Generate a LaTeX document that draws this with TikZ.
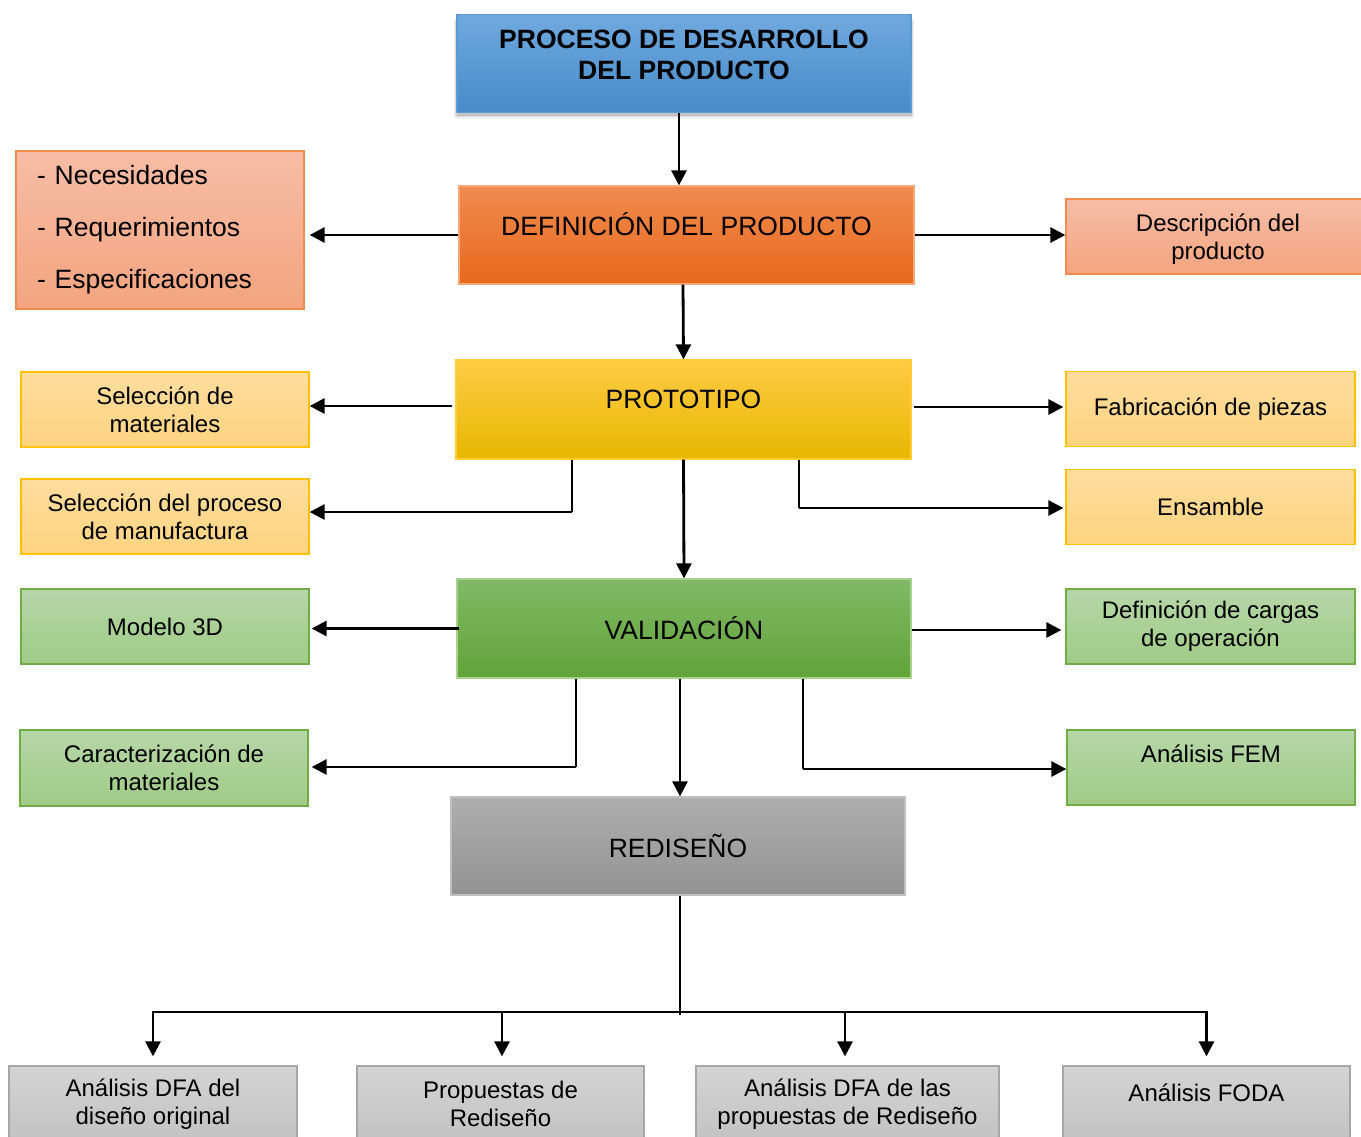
\documentclass[tikz,border=0pt]{standalone}
\usepackage{fontspec}
\setmainfont{Liberation Sans}
\usetikzlibrary{arrows.meta,shadows}
\definecolor{bluetop}{HTML}{70A9DE}
\definecolor{bluebot}{HTML}{468BC9}
\definecolor{bluedraw}{HTML}{5B9BD5}
\definecolor{ortop}{HTML}{F08B50}
\definecolor{orbot}{HTML}{E8691C}
\definecolor{ordraw}{HTML}{F5A878}
\definecolor{saltop}{HTML}{F6BDA6}
\definecolor{salbot}{HTML}{F4A47F}
\definecolor{saldraw}{HTML}{F18B4E}
\definecolor{yetop}{HTML}{FFCB45}
\definecolor{yemid}{HTML}{FFC000}
\definecolor{yebot}{HTML}{E5B800}
\definecolor{yedraw}{HTML}{FFCC33}
\definecolor{lytop}{HTML}{FFDD9E}
\definecolor{lybot}{HTML}{FFD480}
\definecolor{lydraw}{HTML}{FFC000}
\definecolor{grtop}{HTML}{81B966}
\definecolor{grbot}{HTML}{62A338}
\definecolor{grdraw}{HTML}{A9D18E}
\definecolor{lgtop}{HTML}{B6D7A8}
\definecolor{lgbot}{HTML}{9FCB86}
\definecolor{lgdraw}{HTML}{70AD47}
\definecolor{gytop}{HTML}{AEAEAE}
\definecolor{gybot}{HTML}{939393}
\definecolor{gydraw}{HTML}{BFBFBF}
\definecolor{lgytop}{HTML}{D4D4D4}
\definecolor{lgybot}{HTML}{C2C2C2}
\definecolor{lgydraw}{HTML}{A6A6A6}
\begin{document}
\begin{tikzpicture}[x=1pt,y=-1pt,
  box/.style={rectangle, inner sep=0pt, line width=1.3pt, align=center},
  mainbox/.style={box, minimum width=454pt, minimum height=98pt, font=\fontsize{26.5}{31}\selectfont},
  sidebox/.style={box, minimum width=288pt, minimum height=75pt, font=\fontsize{24}{28}\selectfont},
  blueb/.style={top color=bluetop, bottom color=bluebot, draw=bluedraw},
  orb/.style={top color=ortop, bottom color=orbot, draw=ordraw},
  salb/.style={top color=saltop, bottom color=salbot, draw=saldraw},
  yeb/.style={top color=yetop, middle color=yemid, bottom color=yebot, draw=yedraw},
  lyb/.style={top color=lytop, bottom color=lybot, draw=lydraw},
  grb/.style={top color=grtop, bottom color=grbot, draw=grdraw},
  lgb/.style={top color=lgtop, bottom color=lgbot, draw=lgdraw},
  gyb/.style={top color=gytop, bottom color=gybot, draw=gydraw},
  lgyb/.style={top color=lgytop, bottom color=lgybot, draw=lgydraw},
  softshadow/.style={
    drop shadow={opacity=0.12, shadow xshift=0pt, shadow yshift=-6pt, shadow scale=1.014},
    drop shadow={opacity=0.18, shadow xshift=0pt, shadow yshift=-4.5pt, shadow scale=1.009},
    drop shadow={opacity=0.28, shadow xshift=0.5pt, shadow yshift=-3pt, shadow scale=1.004}},
  arr/.style={line width=2.8pt, -{Triangle[length=15pt,width=15pt]}},
  thinline/.style={line width=1.4pt},
  midline/.style={line width=2pt},
]
\useasboundingbox (0,0) rectangle (1361,1136);

% main column
\node[mainbox, blueb, softshadow,
  label={[font=\fontsize{26.5}{31}\selectfont\bfseries, align=center, yshift=9pt]center:PROCESO DE DESARROLLO\\DEL PRODUCTO}]
  (top) at (684,63.5) {};
\node[mainbox, orb, minimum width=455pt,
  label={[font=\fontsize{26.5}{31}\selectfont, yshift=11pt]center:DEFINICIÓN DEL PRODUCTO}]
  (def) at (686.5,235) {};
\node[mainbox, yeb, minimum width=455pt, minimum height=99pt,
  label={[font=\fontsize{26.5}{31}\selectfont, yshift=10.5pt]center:PROTOTIPO}]
  (proto) at (683.5,409.5) {};
\node[mainbox, grb, minimum height=99pt] (val) at (684,628.5) {VALIDACIÓN};
\node[mainbox, gyb] (red) at (678,846) {REDISEÑO};

% definition side boxes
\node[box, salb, minimum width=288pt, minimum height=158pt, text width=246pt, inner xsep=21pt,
  align=left, font=\fontsize{26.5}{52}\selectfont]
  (nec) at (160,230) {- Necesidades\\- Requerimientos\\- Especificaciones};
\node[sidebox, salb, minimum width=304pt,
  label={[font=\fontsize{24}{28}\selectfont, align=center, yshift=-3pt]center:Descripción del\\producto}]
  (desc) at (1218,236.5) {};

% prototype side boxes
\node[sidebox, lyb] (selm) at (165,409.5) {Selección de\\materiales};
\node[sidebox, lyb] (selp) at (165,516.5) {Selección del proceso\\de manufactura};
\node[sidebox, lyb, minimum width=289pt] (fab) at (1210.5,409) {Fabricación de piezas};
\node[sidebox, lyb, minimum width=289pt] (ens) at (1210.5,507) {Ensamble};

% validation side boxes
\node[sidebox, lgb] (mod) at (165,626.5) {Modelo 3D};
\node[sidebox, lgb, minimum height=76pt] (car) at (164,768) {Caracterización de\\materiales};
\node[sidebox, lgb, minimum width=289pt] (carg) at (1210.5,626.5) {Definición de cargas\\de operación};
\node[sidebox, lgb, label={[font=\fontsize{24}{28}\selectfont, yshift=13.5pt]center:Análisis FEM}]
  (fem) at (1211,767.5) {};

% redesign boxes
\node[sidebox, lgyb, minimum height=76pt] (b1) at (153,1104) {Análisis DFA del\\diseño original};
\node[sidebox, lgyb, minimum width=287pt, minimum height=76pt] (b2) at (500.5,1104) {Propuestas de\\Rediseño};
\node[sidebox, lgyb, minimum width=303pt, minimum height=76pt] (b3) at (847.5,1104) {Análisis DFA de las\\propuestas de Rediseño};
\node[sidebox, lgyb, minimum width=287pt, minimum height=76pt,
  label={[font=\fontsize{24}{28}\selectfont, yshift=11pt]center:Análisis FODA}]
  (b4) at (1206.5,1104) {};

% main flow
\draw[arr] ([xshift=-5pt]top.south) -- ([xshift=-7.5pt]def.north);
\draw[arr] ([xshift=-3.5pt]def.south) -- (proto.north);
\draw[arr] (proto.south) -- (val.north);
\draw[arr] ([xshift=-4pt]val.south) -- ([xshift=2pt]red.north);

% definition branches
\draw[arr, shorten >=5pt] (def.west) -- (def.west -| nec.east);
\draw[arr] (def.east) -- (def.east -| desc.west);

% prototype branches
\draw[arr, shorten <=3pt] ([yshift=3.5pt]proto.west) -- ([yshift=3.5pt]proto.west -| selm.east);
\draw[arr, shorten >=2pt, shorten <=2pt] ([yshift=2.5pt]proto.east) -- ([yshift=2.5pt]proto.east -| fab.west);
\coordinate (pl) at ([xshift=-111.5pt]proto.south |- 0,512);
\draw[thinline] ([xshift=-111.5pt]proto.south) -- (pl);
\draw[arr] (pl) -- (pl -| selp.east);
\coordinate (pr) at ([xshift=115.5pt]proto.south |- 0,508);
\draw[thinline] ([xshift=115.5pt]proto.south) -- (pr);
\draw[arr, shorten >=2pt] (pr) -- (pr -| ens.west);

% validation branches
\draw[arr, shorten <=-3pt, shorten >=2pt] (val.west) -- (val.west -| mod.east);
\draw[arr, shorten >=4pt] ([yshift=-1.5pt]val.east) -- ([yshift=-1.5pt]val.east -| carg.west);
\coordinate (vl) at ([xshift=-108pt]val.south |- 0,767);
\draw[thinline] ([xshift=-108pt]val.south) -- (vl);
\draw[arr, shorten >=3pt] (vl) -- (vl -| car.east);
\coordinate (vr) at ([xshift=119pt]val.south |- 0,769);
\draw[thinline] ([xshift=119pt]val.south) -- (vr);
\draw[arr] (vr) -- (vr -| fem.west);

% redesign branches
\coordinate (hub) at (680,1012);
\draw[line width=1.2pt] ([xshift=2pt]red.south) -- ([yshift=-3pt]hub);
\draw[midline] (hub -| b1) -- (hub -| b4);
\draw[arr, shorten >=9pt, shorten <=-1pt] (hub -| b1) -- (b1.north);
\draw[arr, shorten >=9pt, shorten <=-1pt] ([xshift=1.5pt]hub -| b2) -- ([xshift=1.5pt]b2.north);
\draw[arr, shorten >=9pt, shorten <=-1pt] ([xshift=-2.5pt]hub -| b3) -- ([xshift=-2.5pt]b3.north);
\draw[arr, shorten >=9pt, shorten <=-1pt] (hub -| b4) -- (b4.north);
\end{tikzpicture}
\end{document}
